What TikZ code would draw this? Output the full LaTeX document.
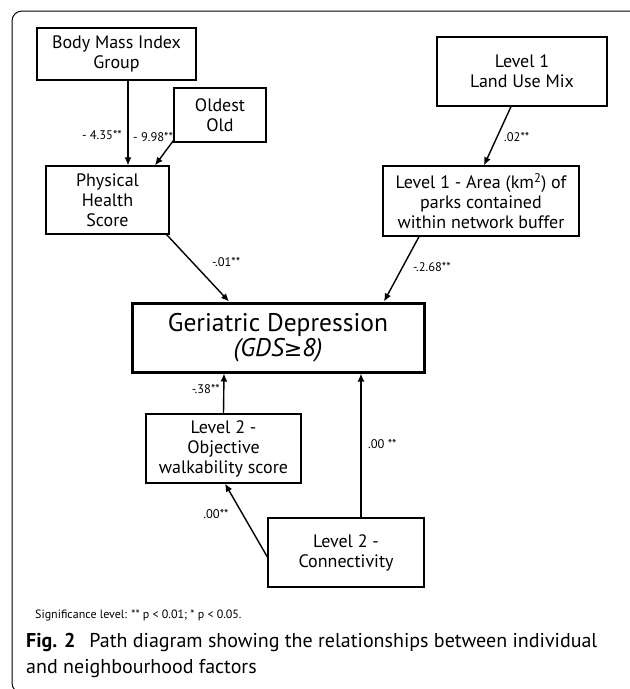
\documentclass[tikz,border=0pt]{standalone}
\usepackage{fontspec}
\setmainfont{PT Sans}
\newfontfamily\symfont{DejaVu Sans}
\usetikzlibrary{arrows.meta}
\tikzset{
  box/.style={draw, line width=1.3pt, align=center, inner sep=0pt, font=\fontsize{18}{20}\selectfont},
  gdbox/.style={draw, line width=3pt, align=center, inner sep=0pt, font=\fontsize{25.5}{25}\selectfont},
  arr/.style={line width=1.4pt, -{Latex[length=8pt,width=7pt]}},
  lab/.style={inner sep=0pt, font=\fontsize{12.5}{14}\selectfont},
}
\begin{document}
\begin{tikzpicture}[x=1pt,y=-1pt]
\clip (0,0) rectangle (630,689);
\fill[white] (0,0) rectangle (630,689);
\draw[line width=1pt, rounded corners=10pt] (12,11) rectangle (640,693);
% boxes
\node[box, minimum width=159pt, minimum height=52pt] (bmi) at (116.5,54) {Body Mass Index\\Group};
\node[box, minimum width=92pt, minimum height=54pt] (old) at (220,115) {Oldest\\Old};
\node[box, minimum width=123pt, minimum height=68pt] (phs) at (107.5,200) {Physical\\Health\\Score};
\node[box, minimum width=170pt, minimum height=69pt] (lum) at (522,71.5) {Level 1\\Land Use Mix};
\node[box, minimum width=196pt, minimum height=70pt] (area) at (481,201) {Level 1 - Area (km\textsuperscript{2}) of\\parks contained\\within network buffer};
\node[gdbox, minimum width=292pt, minimum height=69pt] (gd) at (278,337.5) {Geriatric Depression\\\textit{(GDS{\symfont\itshape\fontsize{22}{25}\selectfont ≥}8)}};
\node[box, minimum width=155pt, minimum height=69pt] (walk) at (223.5,448.5) {Level 2 -\\Objective\\walkability score};
\node[box, minimum width=156pt, minimum height=69pt] (conn) at (346,552.5) {Level 2 -\\Connectivity};
% arrows
\draw[arr] ([xshift=11.5pt]bmi.south) -- ([xshift=20.5pt]phs.north);
\draw[arr] ([yshift=2pt]old.south west) -- ([xshift=47.5pt]phs.north);
\draw[arr] ([xshift=-3pt]phs.south east) -- ([xshift=-49pt]gd.north);
\draw[arr] ([xshift=-11pt]lum.south) -- ([xshift=3pt]area.north);
\draw[arr] ([xshift=-62pt]area.south) -- ([xshift=106pt]gd.north);
\draw[arr] (walk.north) -- ([xshift=-54pt]gd.south);
\draw[arr] ([xshift=15pt]conn.north) -- ([xshift=83pt]gd.south);
\draw[arr] ([yshift=-4.5pt]conn.west) -- ([xshift=1.5pt]walk.south);
% labels
\node[lab, anchor=east] (l1) at (122,135) {- 4.35**};
\node[lab, anchor=west] (l2) at (133,137) {- 9.98**};
\node[lab, anchor=west] (l3) at (212,262) {-.01**};
\node[lab, anchor=west] (l4) at (504,137) {.02**};
\node[lab, anchor=west] (l5) at (413,267) {-.2.68**};
\node[lab, anchor=east] (l6) at (220,389) {-.38**};
\node[lab, anchor=west] (l7) at (368,444) {.00 **};
\node[lab, anchor=center] (l8) at (216,514) {.00**};
% captions
\node[inner sep=0pt, anchor=base west, font=\fontsize{12}{14}\selectfont] (sig) at (35,618) {Significance level: ** p < 0.01; * p < 0.05.};
\node[inner sep=0pt, anchor=base west, font=\fontsize{20}{22}\selectfont] (cap1) at (26,647) {\textbf{Fig. 2}\hspace{0.7em}Path diagram showing the relationships between individual};
\node[inner sep=0pt, anchor=base west, font=\fontsize{20}{22}\selectfont] (cap2) at (26,673) {and neighbourhood factors};
\end{tikzpicture}
\end{document}
